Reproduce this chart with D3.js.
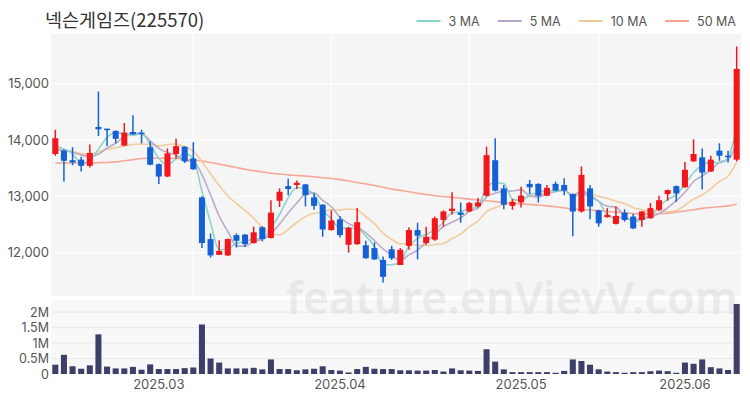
<!DOCTYPE html>
<html><head><meta charset="utf-8">
<script src="https://cdn.jsdelivr.net/npm/d3@7"></script>
<style>body{margin:0;background:#fff} svg{display:block}</style>
</head><body><svg id="c" width="750" height="400"></svg>
<script>
const dates = [
 "2025-02-13","2025-02-14","2025-02-17","2025-02-18","2025-02-19","2025-02-20","2025-02-21","2025-02-24","2025-02-25","2025-02-26","2025-02-27","2025-02-28",
 "2025-03-04","2025-03-05","2025-03-06","2025-03-07","2025-03-10","2025-03-11","2025-03-12","2025-03-13","2025-03-14","2025-03-17","2025-03-18","2025-03-19","2025-03-20","2025-03-21","2025-03-24","2025-03-25","2025-03-26","2025-03-27","2025-03-28","2025-03-31",
 "2025-04-01","2025-04-02","2025-04-03","2025-04-04","2025-04-07","2025-04-08","2025-04-09","2025-04-10","2025-04-11","2025-04-14","2025-04-15","2025-04-16","2025-04-17","2025-04-18","2025-04-21","2025-04-22","2025-04-23","2025-04-24","2025-04-25","2025-04-28","2025-04-29","2025-04-30",
 "2025-05-02","2025-05-07","2025-05-08","2025-05-09","2025-05-12","2025-05-13","2025-05-14","2025-05-15","2025-05-16","2025-05-19","2025-05-20","2025-05-21","2025-05-22","2025-05-23","2025-05-26","2025-05-27","2025-05-28","2025-05-29","2025-05-30",
 "2025-06-02","2025-06-04","2025-06-05","2025-06-09","2025-06-10","2025-06-11","2025-06-12"];
const opens = [13750,13810,13640,13650,13540,14230,14200,14160,13900,14140,
 14130,13870,13570,13350,13750,13880,13670,12980,12240,11960,
 11950,12310,12320,12170,12450,12260,12920,13180,13200,13210,
 12980,12850,12400,12590,12140,12150,12130,12080,11870,12060,
 11780,12120,12400,12170,12230,12580,12740,12710,12730,12820,
 13010,13640,13140,12830,12890,13220,13220,13010,13220,13200,
 13040,12730,13140,12750,12630,12510,12710,12640,12580,12610,
 12760,13040,13180,13160,13620,13690,13440,13810,13720,13650];
const closes = [14030,13630,13600,13540,13770,14190,14180,14020,14130,14100,
 14110,13560,13350,13760,13890,13620,13480,12170,11950,12030,
 12240,12210,12150,12360,12240,12710,13080,13130,13240,13020,
 12830,12410,12570,12310,12440,12540,11900,11880,11570,11900,
 12050,12400,12300,12280,12610,12730,12780,12670,12880,12890,
 13730,13100,12850,12900,13010,13160,13010,13150,13100,13100,
 12730,13380,12820,12520,12670,12650,12580,12430,12730,12790,
 12930,13110,13050,13470,13750,13420,13650,13720,13700,15260];
const highs = [14180,13830,13870,13700,13920,14860,14200,14170,14300,14440,
 14180,13970,13580,13850,14020,13890,13960,13000,12340,12220,
 12250,12340,12330,12460,12470,12930,13140,13310,13280,13220,
 13050,12860,12750,12650,12460,12790,12210,12180,11930,12120,
 12080,12450,12530,12460,12640,12750,13070,12890,12900,12970,
 13880,14030,13200,12950,13170,13290,13230,13200,13260,13320,
 13050,13530,13200,12760,12790,12820,12770,12690,12740,12880,
 13010,13120,13190,13610,14010,13850,13720,13940,13810,15660];
const lows = [13720,13260,13550,13440,13510,14070,13890,13940,13890,14090,
 13940,13550,13220,13340,13670,13590,13470,12080,11910,11960,
 11940,12090,12100,12160,12200,12250,12810,13020,13130,12820,
 12760,12280,12390,12270,12000,12140,11890,11870,11470,11870,
 11780,12050,11880,12140,12210,12460,12670,12530,12720,12800,
 13000,13090,12770,12760,12800,13040,12890,13000,13090,13020,
 12290,12710,12590,12460,12620,12500,12550,12420,12460,12600,
 12740,12920,12900,13150,13610,13120,13430,13630,13600,13620];
// volume in millions of shares
const volumes = [0.30,0.62,0.25,0.17,0.28,1.28,0.24,0.18,0.18,0.23,
 0.14,0.31,0.16,0.16,0.16,0.19,0.21,1.60,0.50,0.37,
 0.18,0.18,0.18,0.20,0.15,0.47,0.16,0.16,0.12,0.15,
 0.17,0.25,0.13,0.11,0.05,0.16,0.23,0.17,0.16,0.16,
 0.12,0.12,0.11,0.11,0.13,0.08,0.18,0.12,0.11,0.10,
 0.80,0.40,0.15,0.06,0.06,0.06,0.06,0.06,0.04,0.10,
 0.47,0.42,0.30,0.15,0.08,0.06,0.04,0.06,0.06,0.09,
 0.11,0.09,0.04,0.37,0.33,0.47,0.22,0.18,0.13,2.26];
// closes of the 9 sessions before the first bar (estimated from the MA lines)
const priorCloses = [13900,13950,13850,13900,13800,13700,13750,13800,13850];
// 50-day moving average
const ma50 = [13590,13590,13590,13590,13590,13595,13600,13610,13630,13650,
 13670,13675,13675,13675,13670,13660,13645,13625,13600,13570,
 13540,13510,13480,13455,13430,13410,13395,13380,13370,13360,
 13345,13330,13315,13295,13270,13245,13220,13190,13160,13130,
 13105,13080,13055,13030,13010,12995,12980,12965,12950,12935,
 12920,12905,12890,12875,12865,12855,12845,12830,12815,12795,
 12775,12765,12755,12745,12730,12720,12705,12695,12685,12685,
 12690,12700,12720,12740,12760,12785,12800,12815,12830,12860];
const priceTicks = [12000,13000,14000,15000];
const volumeTicks = [0,0.5,1,1.5,2];
const monthTickDates = ["2025-03-04","2025-04-02","2025-05-02","2025-06-02"];
const monthTickLabels = ["2025.03","2025.04","2025.05","2025.06"];
const gridDates = ["2025-03-10","2025-04-01","2025-04-23","2025-05-19"];
const legendLabels = ["3 MA","5 MA","10 MA","50 MA"];
const legendColors = ["#86d3c9","#b7a6c9","#efc99a","#f4a393"];
const titleText = "넥슨게임즈(225570)";

const svg = d3.select("#c");
const FONT = "'Noto Sans CJK KR','Noto Sans',sans-serif";
const NUMFONT = "Inter,'Noto Sans',sans-serif";
const L = 51, R = 741, PT = 34, PB = 296, VT = 300, VB = 374;

const x = d3.scaleBand().domain(dates).range([L, R]).paddingInner(0.3).paddingOuter(0.15);
const cx = d => x(d) + x.bandwidth() / 2;
const y = d3.scaleLinear().domain([11230, 15880]).range([PB, PT]);
const yv = d3.scaleLinear().domain([0, 2.39]).range([VB, VT]);

// backgrounds
svg.append("rect").attr("x", L).attr("y", PT).attr("width", R - L).attr("height", PB - PT).attr("fill", "#f5f5f5");
svg.append("rect").attr("x", L).attr("y", VT).attr("width", R - L).attr("height", VB - VT).attr("fill", "#f8f8f8");

// grid
svg.append("g").selectAll("line").data(priceTicks).join("line")
  .attr("x1", L).attr("x2", R).attr("y1", d => y(d)).attr("y2", d => y(d))
  .attr("stroke", "#ffffff").attr("stroke-width", 1.2);
svg.append("g").selectAll("line").data(gridDates).join("line")
  .attr("x1", d => cx(d)).attr("x2", d => cx(d)).attr("y1", PT).attr("y2", PB)
  .attr("stroke", "#ffffff").attr("stroke-width", 1.2);
svg.append("g").selectAll("line").data(volumeTicks.slice(1)).join("line")
  .attr("x1", L).attr("x2", R).attr("y1", d => yv(d)).attr("y2", d => yv(d))
  .attr("stroke", "#e9e9e9").attr("stroke-width", 1);

// watermark
svg.append("text").attr("x", 738).attr("y", 314).attr("text-anchor", "end")
  .attr("font-family", "'Noto Sans',sans-serif").attr("font-size", 45).attr("font-weight", 600)
  .attr("fill", "#d2d2d2").attr("opacity", 0.38).text("feature.enVievV.com");

// moving averages
const allCloses = priorCloses.concat(closes);
const np = priorCloses.length;
const maOf = n => closes.map((_, i) => d3.mean(allCloses.slice(i + np - n + 1, i + np + 1)));
const maSeries = [maOf(3), maOf(5), maOf(10), ma50];
const line = d3.line().x((v, i) => cx(dates[i])).y(v => y(v)).curve(d3.curveMonotoneX);
[3, 2, 1, 0].forEach(k => {
  svg.append("path").attr("d", line(maSeries[k])).attr("fill", "none")
    .attr("stroke", legendColors[k]).attr("stroke-width", 1.6).attr("opacity", 0.95);
});

// candles
const up = "#f2161d", down = "#1560d5";
const cg = svg.append("g").selectAll("g").data(dates).join("g");
cg.append("line").attr("x1", d => cx(d)).attr("x2", d => cx(d))
  .attr("y1", (d, i) => y(highs[i])).attr("y2", (d, i) => y(lows[i]))
  .attr("stroke", (d, i) => closes[i] >= opens[i] ? up : down).attr("stroke-width", 1.5);
cg.append("rect").attr("x", d => x(d)).attr("width", x.bandwidth())
  .attr("y", (d, i) => y(Math.max(opens[i], closes[i])))
  .attr("height", (d, i) => Math.max(1.5, Math.abs(y(opens[i]) - y(closes[i]))))
  .attr("fill", (d, i) => closes[i] >= opens[i] ? up : down);

// volume bars
svg.append("g").selectAll("rect").data(dates).join("rect")
  .attr("x", d => x(d)).attr("width", x.bandwidth())
  .attr("y", (d, i) => yv(volumes[i])).attr("height", (d, i) => VB - yv(volumes[i]))
  .attr("fill", "#3e3f68");

// axes
const fmtP = d3.format(",");
const yAxis = svg.append("g").attr("transform", `translate(${L - 2},0)`)
  .call(d3.axisLeft(y).tickValues(priceTicks).tickSize(0).tickPadding(0).tickFormat(fmtP));
const fmtV = v => v === 0 ? "0" : v + "M";
const vAxis = svg.append("g").attr("transform", `translate(${L - 2},0)`)
  .call(d3.axisLeft(yv).tickValues(volumeTicks).tickSize(0).tickPadding(0).tickFormat(fmtV));
const xAxis = svg.append("g").attr("transform", `translate(0,${VB + 2})`)
  .call(d3.axisBottom(x).tickValues(monthTickDates).tickSize(0).tickPadding(4)
    .tickFormat(d => monthTickLabels[monthTickDates.indexOf(d)]));
[yAxis, xAxis].forEach(g => {
  g.select(".domain").remove();
  g.selectAll("text").attr("font-family", NUMFONT).attr("font-size", 13).attr("fill", "#555");
});
vAxis.select(".domain").remove();
vAxis.selectAll("text").attr("font-family", NUMFONT).attr("font-size", 12.5).attr("fill", "#555");

// title
svg.append("text").attr("x", 45).attr("y", 27).attr("font-family", FONT)
  .attr("font-size", 18.5).attr("fill", "#333").text(titleText);

// legend (laid out from the right)
const lg = svg.append("g");
let xr = 736;
for (let k = legendLabels.length - 1; k >= 0; k--) {
  const t = lg.append("text").attr("y", 25.5).attr("font-family", NUMFONT).attr("font-size", 12.5)
    .attr("fill", "#555").text(legendLabels[k]);
  const w = t.node().getComputedTextLength();
  t.attr("x", xr - w);
  lg.append("line").attr("x1", xr - w - 32).attr("x2", xr - w - 8).attr("y1", 21).attr("y2", 21)
    .attr("stroke", legendColors[k]).attr("stroke-width", 2);
  xr = xr - w - 32 - 18;
}
</script>
</body></html>
